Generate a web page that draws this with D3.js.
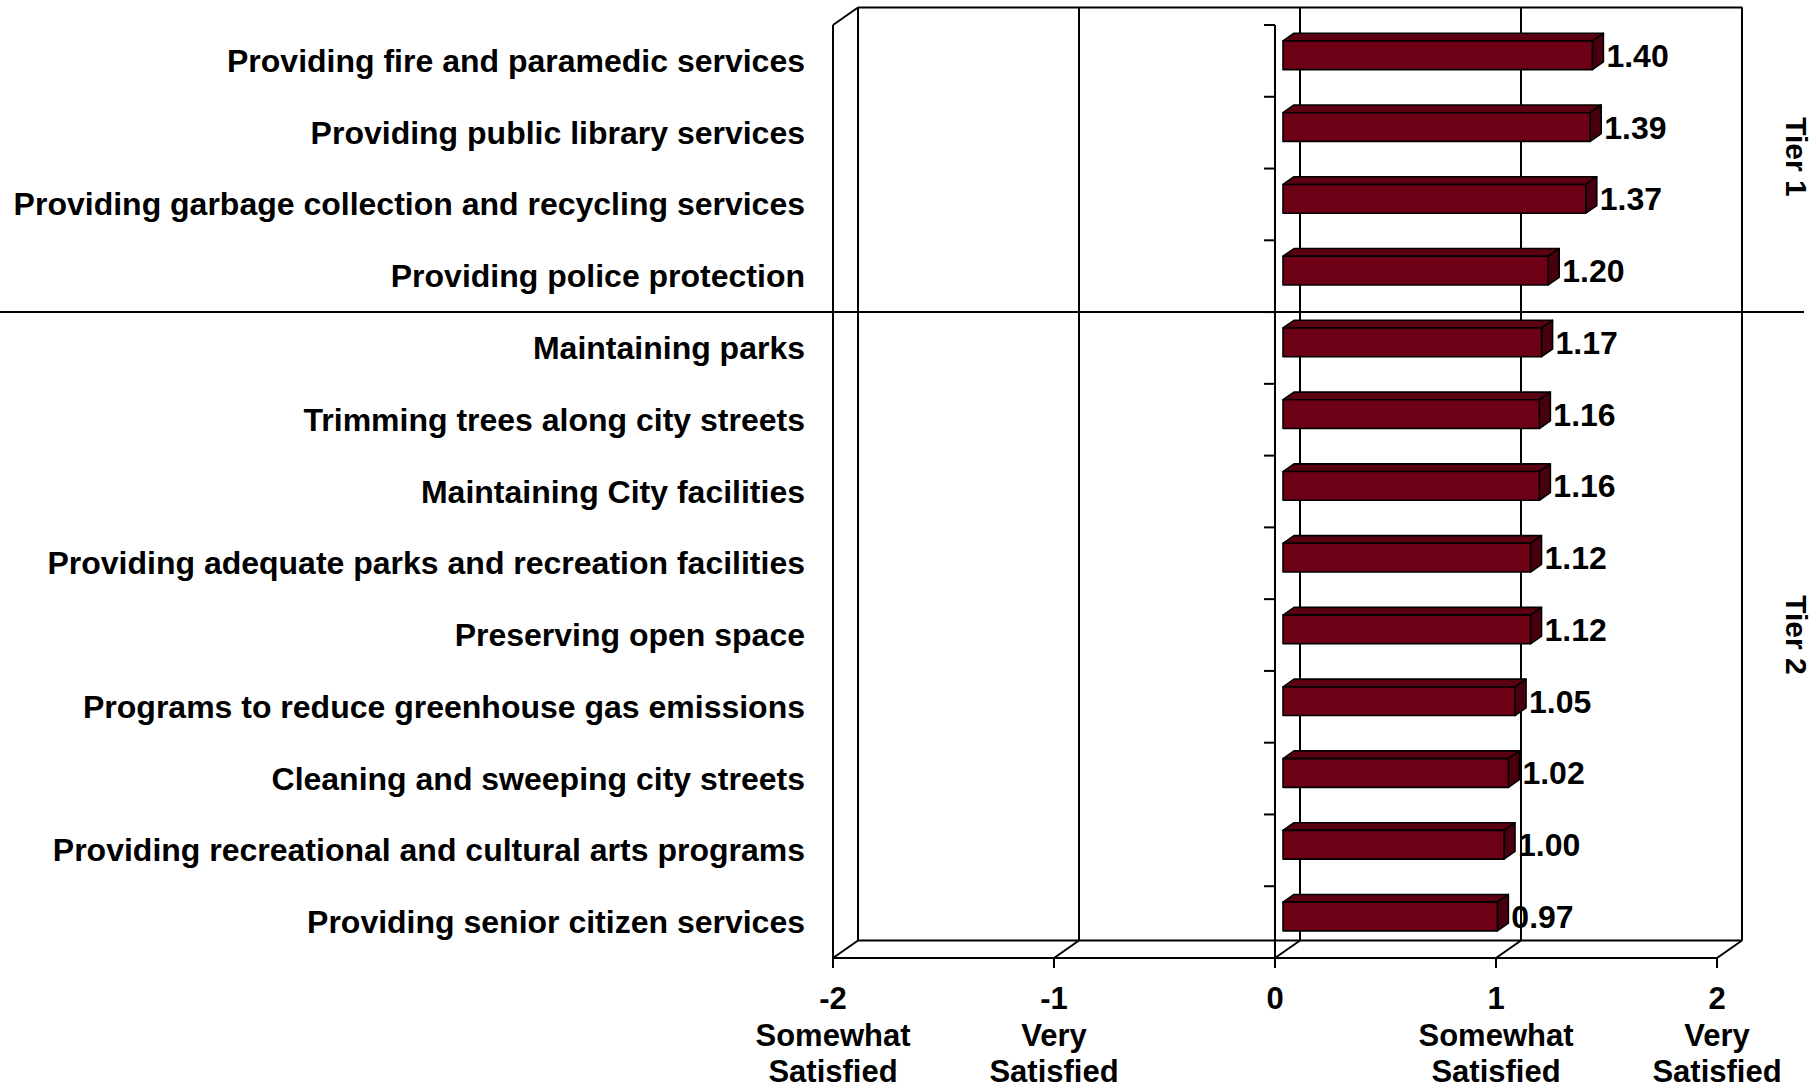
<!DOCTYPE html>
<html>
<head>
<meta charset="utf-8">
<script src="https://cdn.jsdelivr.net/npm/d3@7"></script>
<style>
  html, body { margin: 0; padding: 0; background: #fff; }
  svg { display: block; }
  text { font-family: "Liberation Sans", Arial, sans-serif; font-weight: bold; fill: #000; }
</style>
</head>
<body>
<svg id="chart" width="1816" height="1090"></svg>
<script>
// Service satisfaction scores, top to bottom
const categories = [
  "Providing fire and paramedic services",
  "Providing public library services",
  "Providing garbage collection and recycling services",
  "Providing police protection",
  "Maintaining parks",
  "Trimming trees along city streets",
  "Maintaining City facilities",
  "Providing adequate parks and recreation facilities",
  "Preserving open space",
  "Programs to reduce greenhouse gas emissions",
  "Cleaning and sweeping city streets",
  "Providing recreational and cultural arts programs",
  "Providing senior citizen services"
];
const scores = [1.40, 1.39, 1.37, 1.20, 1.17, 1.16, 1.16, 1.12, 1.12, 1.05, 1.02, 1.00, 0.97];

const tickValues = [-2, -1, 0, 1, 2];
const tickWords = [
  ["Somewhat", "Satisfied"],
  ["Very", "Satisfied"],
  [],
  ["Somewhat", "Satisfied"],
  ["Very", "Satisfied"]
];

const tiers = [
  { name: "Tier 1", first: 0, last: 3 },
  { name: "Tier 2", first: 4, last: 12 }
];

const svg = d3.select("#chart");

// Front plane of the 3D box; the back plane is shifted by (DX, DY)
const DX = 25, DY = -17.5;
const x = d3.scaleLinear().domain([-2, 2]).range([833, 1717]);
const yTop = 25, yBottom = 958;
const yCat = d3.scaleBand().domain(d3.range(categories.length)).range([yTop, yBottom]);
const yBar = d3.scaleBand().domain(d3.range(categories.length)).range([yTop, yBottom])
  .paddingInner(0.6).paddingOuter(0.3);

const line = (x1, y1, x2, y2, w = 2) =>
  svg.append("line").attr("x1", x1).attr("y1", y1).attr("x2", x2).attr("y2", y2)
    .attr("stroke", "#000").attr("stroke-width", w);

const xMin = x(-2), xMax = x(2);

// Back wall outline and vertical gridlines
line(xMin + DX, yTop + DY, xMax + DX, yTop + DY);
line(xMax + DX, yTop + DY, xMax + DX, yBottom + DY);
tickValues.forEach(v => line(x(v) + DX, yTop + DY, x(v) + DX, yBottom + DY));
// Left side wall
line(xMin, yTop, xMin + DX, yTop + DY);
line(xMin, yTop, xMin, yBottom);
// Floor
line(xMin + DX, yBottom + DY, xMax + DX, yBottom + DY);
line(xMin, yBottom, xMax, yBottom);
tickValues.forEach(v => line(x(v), yBottom, x(v) + DX, yBottom + DY));

// Value axis ticks below the floor
tickValues.forEach(v => line(x(v), yBottom, x(v), yBottom + 10));

// Category axis on the front plane at zero, with ticks between categories
line(x(0), yTop, x(0), yBottom);
d3.range(categories.length + 1).forEach(i => {
  const yy = yTop + i * yCat.step();
  line(x(0) - 11, yy, x(0), yy);
});

// 3D bars: top face, end face, then front face
const d0 = 0.32, d1 = 0.76;
const ddx = (d1 - d0) * DX, ddy = (d1 - d0) * DY;
const bh = yBar.bandwidth();
const gBars = svg.append("g");
scores.forEach((v, i) => {
  const bx0 = x(0) + d0 * DX, bx1 = x(v) + d0 * DX;
  const by0 = yBar(i) + d0 * DY, by1 = by0 + bh;
  const g = gBars.append("g").attr("stroke", "#000").attr("stroke-width", 1.6)
    .attr("stroke-linejoin", "round");
  g.append("polygon")
    .attr("points", [[bx0, by0], [bx1, by0], [bx1 + ddx, by0 + ddy], [bx0 + ddx, by0 + ddy]].join(" "))
    .attr("fill", "#5a0012");
  g.append("polygon")
    .attr("points", [[bx1, by0], [bx1 + ddx, by0 + ddy], [bx1 + ddx, by1 + ddy], [bx1, by1]].join(" "))
    .attr("fill", "#48000e");
  g.append("rect")
    .attr("x", bx0).attr("y", by0).attr("width", bx1 - bx0).attr("height", bh)
    .attr("fill", "#6e0016");
  svg.append("text")
    .attr("x", x(v) + d1 * DX + 3)
    .attr("y", by0 + bh / 2)
    .attr("dy", "0.36em")
    .attr("font-size", 32)
    .text(v.toFixed(2));
});

// Category labels
categories.forEach((c, i) => {
  svg.append("text")
    .attr("x", 805)
    .attr("y", yCat(i) + yCat.bandwidth() / 2 + 11)
    .attr("text-anchor", "end")
    .attr("font-size", 32)
    .text(c);
});

// Value axis labels
tickValues.forEach((v, i) => {
  svg.append("text")
    .attr("x", x(v)).attr("y", 1009)
    .attr("text-anchor", "middle").attr("font-size", 31)
    .text(v);
  tickWords[i].forEach((w, k) => {
    svg.append("text")
      .attr("x", x(v)).attr("y", 1046 + k * 36)
      .attr("text-anchor", "middle").attr("font-size", 31)
      .text(w);
  });
});

// Tier divider and tier labels
const yDiv = yTop + 4 * yCat.step();
line(0, yDiv, 1804, yDiv);
const tierCenters = [157, 635];
tiers.forEach((t, i) => {
  svg.append("text")
    .attr("transform", `translate(1797,${tierCenters[i]}) rotate(90)`)
    .attr("text-anchor", "middle")
    .attr("dy", "0.36em")
    .attr("font-size", 30)
    .text(t.name);
});
</script>
</body>
</html>
